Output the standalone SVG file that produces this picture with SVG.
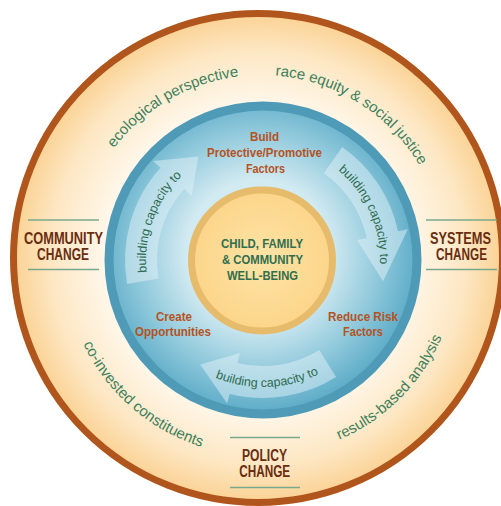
<svg xmlns="http://www.w3.org/2000/svg" xmlns:xlink="http://www.w3.org/1999/xlink" width="501" height="506" viewBox="0 0 501 506">
<defs>
<style>
.lbl{font-family:"Liberation Sans","DejaVu Sans",sans-serif;font-weight:bold;text-anchor:middle}
.fac{fill:#b4531f;font-size:13px}
.ctr{fill:#2f6e4e;font-size:12.5px}
.chg{fill:#6a2d10;font-size:16px}
.arc{font-family:"Liberation Sans","DejaVu Sans",sans-serif;font-size:15px;fill:#3d7f5c}
.bc{font-family:"Liberation Sans","DejaVu Sans",sans-serif;font-size:12.5px;fill:#2f6b4f}
.rule{stroke:#7aa88c;stroke-width:1.5;fill:none}
.arrow{fill:#e2f2f7;fill-opacity:0.5}
</style>
<radialGradient id="cream" cx="258" cy="258" r="244" gradientUnits="userSpaceOnUse">
<stop offset="0.62" stop-color="#fff8ec"/>
<stop offset="0.85" stop-color="#fde7c3"/>
<stop offset="1" stop-color="#fbd294"/>
</radialGradient>
<radialGradient id="blue" cx="258" cy="252" r="160" gradientUnits="userSpaceOnUse">
<stop offset="0.45" stop-color="#d2eaf2"/>
<stop offset="0.75" stop-color="#92cadc"/>
<stop offset="1" stop-color="#5eacc8"/>
</radialGradient>
<radialGradient id="gold" cx="262" cy="260" r="74" gradientUnits="userSpaceOnUse">
<stop offset="0" stop-color="#fde4a6"/>
<stop offset="1" stop-color="#fcd488"/>
</radialGradient>
<path id="tp1" d="M77,259 A184,184 0 0,1 353,99.7"/>
<path id="tp2" d="M174.6,96.5 A184,184 0 0,1 444.9,265.4"/>
<path id="tp3" d="M67.6,221.4 A197,197 0 0,0 325.1,445.3"/>
<path id="tp4" d="M210,449.3 A197,197 0 0,0 451.3,208"/>
<path id="bp1" d="M161.7,318.5 A117,117 0 0,1 223,150.1"/>
<path id="bp2" d="M295.2,147.5 A117,117 0 0,1 368.2,311.3"/>
<path id="bp3" d="M168.6,345 A127,127 0 0,0 363.1,338.2"/>
</defs>
<rect width="501" height="506" fill="#ffffff"/>
<g id="outer-ring">
<circle cx="258" cy="258" r="244.5" fill="url(#cream)" stroke="#b0561d" stroke-width="7"/>
</g>
<g id="blue-ring">
<circle cx="263" cy="260" r="154" fill="url(#blue)" stroke="#4f9bb7" stroke-width="9"/>
</g>
<g id="connectors">
<path class="arrow" d="M127.1,284 A138,138 0 0,1 160.5,167.7 L153,161 L198.4,156.5 L191.7,195.8 L184.2,189.1 A106,106 0 0,0 158.6,278.4 Z"/>
<path class="arrow" d="M342.2,147 A138,138 0 0,1 398,231.3 L407.8,229.2 L383.1,281.2 L356.9,240 L366.7,238 A106,106 0 0,0 323.8,173.2 Z"/>
<path class="arrow" d="M336.1,377 A138,138 0 0,1 229.6,393.9 L227.2,403.6 L200.2,364.6 L239.8,353.1 L237.4,362.9 A106,106 0 0,0 319.2,349.9 Z"/>
<text class="bc"><textPath xlink:href="#bp1" href="#bp1" startOffset="50%" text-anchor="middle">building capacity to</textPath></text>
<text class="bc"><textPath xlink:href="#bp2" href="#bp2" startOffset="50%" text-anchor="middle">building capacity to</textPath></text>
<text class="bc"><textPath xlink:href="#bp3" href="#bp3" startOffset="50%" text-anchor="middle">building capacity to</textPath></text>
</g>
<g id="center">
<circle cx="262" cy="260.5" r="70.5" fill="url(#gold)" stroke="#e6bb6c" stroke-width="7"/>
<text class="lbl ctr" x="262" y="248" textLength="82" lengthAdjust="spacingAndGlyphs">CHILD, FAMILY</text>
<text class="lbl ctr" x="262.5" y="264" textLength="81" lengthAdjust="spacingAndGlyphs">&amp; COMMUNITY</text>
<text class="lbl ctr" x="262.5" y="280" textLength="71" lengthAdjust="spacingAndGlyphs">WELL-BEING</text>
</g>
<g id="build">
<text class="lbl fac" x="264.5" y="141" textLength="29" lengthAdjust="spacingAndGlyphs">Build</text>
<text class="lbl fac" x="264.5" y="157" textLength="115" lengthAdjust="spacingAndGlyphs">Protective/Promotive</text>
<text class="lbl fac" x="265.5" y="173" textLength="39" lengthAdjust="spacingAndGlyphs">Factors</text>
</g>
<g id="create">
<text class="lbl fac" x="174" y="320.5" textLength="36" lengthAdjust="spacingAndGlyphs">Create</text>
<text class="lbl fac" x="173" y="336" textLength="76" lengthAdjust="spacingAndGlyphs">Opportunities</text>
</g>
<g id="reduce">
<text class="lbl fac" x="363" y="320.5" textLength="70" lengthAdjust="spacingAndGlyphs">Reduce Risk</text>
<text class="lbl fac" x="363" y="336" textLength="40" lengthAdjust="spacingAndGlyphs">Factors</text>
</g>
<g id="community-change">
<line class="rule" x1="28" y1="220" x2="99" y2="220"/>
<line class="rule" x1="28" y1="269.5" x2="99" y2="269.5"/>
<text class="lbl chg" x="63.5" y="243.5" textLength="79" lengthAdjust="spacingAndGlyphs">COMMUNITY</text>
<text class="lbl chg" x="63" y="259.5" textLength="52" lengthAdjust="spacingAndGlyphs">CHANGE</text>
</g>
<g id="systems-change">
<line class="rule" x1="426" y1="220" x2="497" y2="220"/>
<line class="rule" x1="426" y1="269.5" x2="497" y2="269.5"/>
<text class="lbl chg" x="460.5" y="243.5" textLength="61" lengthAdjust="spacingAndGlyphs">SYSTEMS</text>
<text class="lbl chg" x="461.5" y="259.5" textLength="51" lengthAdjust="spacingAndGlyphs">CHANGE</text>
</g>
<g id="policy-change">
<line class="rule" x1="230" y1="437.5" x2="300" y2="437.5"/>
<line class="rule" x1="230" y1="487.5" x2="300" y2="487.5"/>
<text class="lbl chg" x="264.5" y="460.5" textLength="45" lengthAdjust="spacingAndGlyphs">POLICY</text>
<text class="lbl chg" x="264.7" y="476.7" textLength="51" lengthAdjust="spacingAndGlyphs">CHANGE</text>
</g>
<g id="principles">
<text class="arc"><textPath xlink:href="#tp1" href="#tp1" startOffset="50%" text-anchor="middle">ecological perspective</textPath></text>
<text class="arc"><textPath xlink:href="#tp2" href="#tp2" startOffset="50%" text-anchor="middle">race equity &amp; social justice</textPath></text>
<text class="arc"><textPath xlink:href="#tp3" href="#tp3" startOffset="50%" text-anchor="middle">co-invested constituents</textPath></text>
<text class="arc"><textPath xlink:href="#tp4" href="#tp4" startOffset="50%" text-anchor="middle">results-based analysis</textPath></text>
</g>
</svg>
